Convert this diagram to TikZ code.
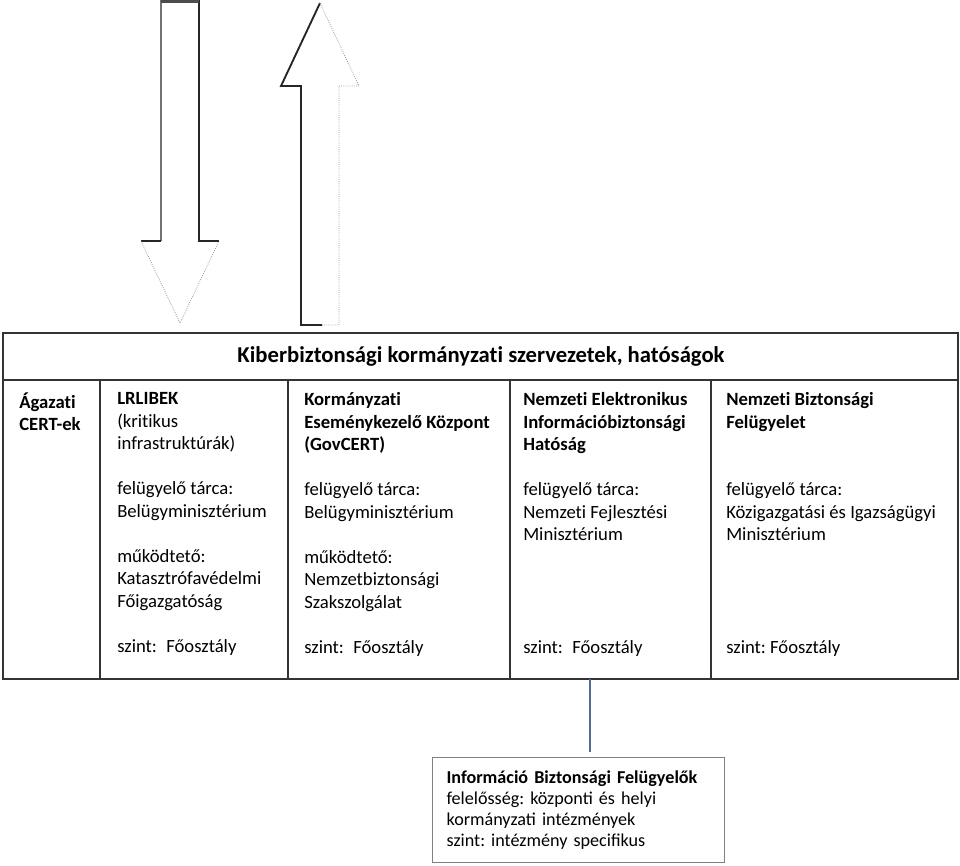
\documentclass[tikz,border=0pt]{standalone}
\usepackage{fontspec}
\setmainfont{Carlito}[Ligatures=NoCommon]
\newfontfamily\scanfont{Carlito}
\usetikzlibrary{positioning}
\definecolor{linkblue}{RGB}{84,108,152}
\frenchspacing
\tikzset{
    cell text/.style={anchor=north west, inner sep=0pt, align=left,
        font=\fontsize{14}{16.9}\selectfont, execute at begin node={\rule{0pt}{12.5pt}}},
    title text/.style={anchor=base, inner sep=0pt, font=\fontsize{17}{20}\selectfont\bfseries},
    grid line/.style={draw=black!80, line width=1.2pt},
    arrow solid/.style={draw=black!85, line width=1.4pt},
    arrow soft/.style={draw=black!55, line width=0.9pt},
    arrow faint/.style={draw=black!40, line width=0.6pt, densely dotted},
    link/.style={draw=linkblue, line width=1.2pt},
    info box/.style={draw=black!50, line width=0.9pt, fill=white, anchor=north west,
        align=left, inner xsep=10.5pt, inner ysep=0pt,
        minimum width=219pt, minimum height=78.75pt, text width=198pt,
        font=\scanfont\fontsize{13.6}{15.75}\selectfont}
}

\begin{document}
\begin{tikzpicture}[x=0.75pt,y=-0.75pt]
\useasboundingbox (0,0) rectangle (960,865);

% block arrows
\fill[white] (161,0) -- (161,241) -- (141,241) -- (180,323) -- (219,241) -- (199,241) -- (199,0) -- cycle;
\draw[arrow soft] (161,0) -- (161,241);
\draw[arrow solid] (161,241) -- (141,241);
\draw[arrow solid] (199,0) -- (199,241) -- (219,241);
\draw[arrow faint] (141,241) -- (180,323) -- (219,241);
\draw[draw=black!70, line width=2.5pt] (161,1) -- (199,1);

\fill[white] (320,3) -- (281,86) -- (301,86) -- (301,325) -- (339,325) -- (339,86) -- (359,86) -- cycle;
\draw[arrow solid] (320,3) -- (281,86) -- (301,86) -- (301,325) -- (322,325);
\draw[arrow faint] (322,325) -- (339,325) -- (339,86) -- (359,86) -- (320,3);

% table
\draw[grid line] (3,333) rectangle (958,679);
\draw[grid line] (3,380) -- (958,380);
\foreach \xx in {100,288,510,711}
    \draw[grid line] (\xx,380) -- (\xx,679);

\node[title text] (title) at (481,362) {Kiberbiztonsági kormányzati szervezetek, hatóságok};

\node[cell text] (agazati) at (19,392.3) {\textbf{Ágazati}\\\textbf{CERT-ek}};
\node[cell text] (lrlibek) at (117,392.3) {\textbf{LRLIBEK}\\(kritikus\\infrastruktúrák)\\[16.9pt]
    felügyelő tárca:\\Belügyminisztérium\\[16.9pt]
    működtető:\\Katasztrófavédelmi\\Főigazgatóság\\[16.9pt]
    szint:\enspace Főosztály};
\node[cell text] (govcert) at (304,392.3) {\textbf{Kormányzati}\\\textbf{Eseménykezelő Központ}\\\textbf{(GovCERT)}\\[16.9pt]
    felügyelő tárca:\\Belügyminisztérium\\[16.9pt]
    működtető:\\Nemzetbiztonsági\\Szakszolgálat\\[16.9pt]
    szint:\enspace Főosztály};
\node[cell text] (neih) at (523,392.3) {\textbf{Nemzeti Elektronikus}\\\textbf{Információbiztonsági}\\\textbf{Hatóság}\\[16.9pt]
    felügyelő tárca:\\Nemzeti Fejlesztési\\Minisztérium\\[67.6pt]
    szint:\enspace Főosztály};
\node[cell text] (nbf) at (726,392.3) {\textbf{Nemzeti Biztonsági}\\\textbf{Felügyelet}\\[33.8pt]
    felügyelő tárca:\\Közigazgatási és Igazságügyi\\Minisztérium\\[67.6pt]
    szint: Főosztály};

% lower box
\node[info box] (ibf) at (432,757) {\textbf{Információ Biztonsági Felügyelők}\\
    felelősség: központi és helyi\\kormányzati intézmények\\szint: intézmény specifikus};
\coordinate (tblfoot) at (590,679);
\draw[link, shorten >=3.5pt] (tblfoot) -- (tblfoot |- ibf.north);
\end{tikzpicture}
\end{document}
